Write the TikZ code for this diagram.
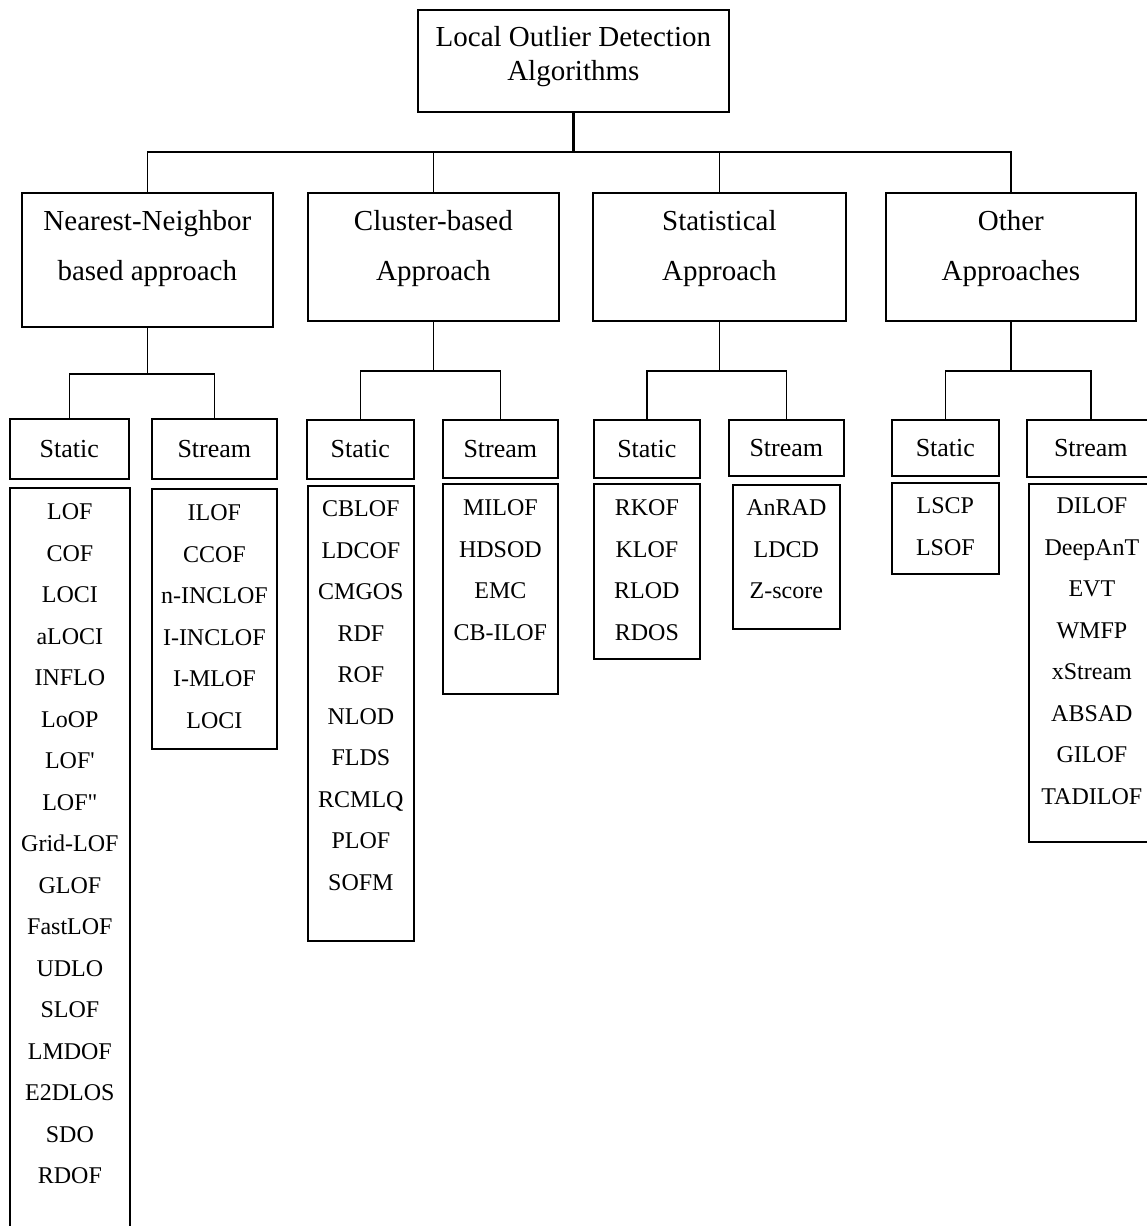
\documentclass[tikz,border=0pt]{standalone}
\usepackage{fontspec}
\newfontfamily\lodfont{Liberation Serif}

\begin{document}
\begin{tikzpicture}[x=1pt, y=-1pt,
		lw/.style={line width=1.7pt},
		topbox/.style={draw, lw, inner sep=0pt, anchor=north west, align=center,
			minimum width=311pt, minimum height=102pt, text height=71pt, text depth=31pt,
			font=\lodfont\fontsize{29}{34}\selectfont},
		catbox/.style={draw, lw, inner sep=0pt, anchor=north west, align=center,
			minimum height=128pt, text height=88pt, text depth=40pt,
			font=\lodfont\fontsize{29}{50}\selectfont},
		subbox/.style={draw, lw, inner sep=0pt, anchor=north west, align=center,
			minimum height=58pt, font=\lodfont\fontsize{26}{30}\selectfont},
		listbox/.style={draw, lw, inner sep=0pt, anchor=north west, align=center,
			font=\lodfont\fontsize{24}{41.5}\selectfont}]
	
	\useasboundingbox (0,0) rectangle (1146,1226);
	\fill[white] (0,0) rectangle (1146,1226);
	
	%% -- root --
	\node[topbox] (top) at (417,9) {Local Outlier Detection\\Algorithms};
	
	%% -- approaches --
	\node[catbox, minimum width=251pt, minimum height=134pt, text depth=46pt] (nn) at (21,192)
	{Nearest-Neighbor\\based approach};
	\node[catbox, minimum width=251pt] (cl) at (307,192) {Cluster-based\\Approach};
	\node[catbox, minimum width=253pt] (st) at (592,192) {Statistical\\Approach};
	\node[catbox, minimum width=250pt] (ot) at (885,192) {Other\\Approaches};
	
	%% -- static / stream --
	\node[subbox, minimum width=119pt, minimum height=60pt] (nn-S) at (9,418) {Static};
	\node[subbox, minimum width=125pt, minimum height=60pt] (nn-T) at (151,418) {Stream};
	\node[subbox, minimum width=107pt, minimum height=59pt] (cl-S) at (306,419) {Static};
	\node[subbox, minimum width=115pt] (cl-T) at (442,419) {Stream};
	\node[subbox, minimum width=106pt] (st-S) at (593,419) {Static};
	\node[subbox, minimum width=115pt, minimum height=56pt] (st-T) at (728,419) {Stream};
	\node[subbox, minimum width=107pt, minimum height=56pt] (ot-S) at (891,419) {Static};
	\node[subbox, minimum width=128pt, minimum height=57pt] (ot-T) at (1026,419) {Stream};
	
	%% -- algorithm lists --
	\node[listbox, minimum width=120pt, minimum height=753pt, text height=696pt, text depth=57pt] (nn-SL) at (9,487)
	{LOF\\COF\\LOCI\\aLOCI\\INFLO\\LoOP\\LOF'\\LOF"\\Grid-LOF\\GLOF\\FastLOF\\UDLO\\SLOF\\LMDOF\\E2DLOS\\SDO\\RDOF};
	\node[listbox, minimum width=125pt, minimum height=260pt, text height=239.5pt, text depth=20.5pt] (nn-TL) at (151,488)
	{ILOF\\CCOF\\n-INCLOF\\I-INCLOF\\I-MLOF\\LOCI};
	\node[listbox, minimum width=106pt, minimum height=455pt, text height=404.5pt, text depth=50.5pt] (cl-SL) at (307,485)
	{CBLOF\\LDCOF\\CMGOS\\RDF\\ROF\\NLOD\\FLDS\\RCMLQ\\PLOF\\SOFM};
	\node[listbox, minimum width=115pt, minimum height=210pt, text height=156.5pt, text depth=53.5pt] (cl-TL) at (442,483)
	{MILOF\\HDSOD\\EMC\\CB-ILOF};
	\node[listbox, minimum width=106pt, minimum height=175pt, text height=156.5pt, text depth=18.5pt] (st-SL) at (593,483)
	{RKOF\\KLOF\\RLOD\\RDOS};
	\node[listbox, minimum width=107pt, minimum height=144pt, text height=114pt, text depth=30pt] (st-TL) at (732,484)
	{AnRAD\\LDCD\\Z-score};
	\node[listbox, minimum width=107pt, minimum height=91pt, text height=72.5pt, text depth=18.5pt] (ot-SL) at (891,482)
	{LSCP\\LSOF};
	\node[listbox, minimum width=126pt, minimum height=358pt, text height=320.5pt, text depth=37.5pt] (ot-TL) at (1028,483)
	{DILOF\\DeepAnT\\EVT\\WMFP\\xStream\\ABSAD\\GILOF\\TADILOF};
	
	%% -- connectors --
	\foreach \c in {nn,cl,st,ot}
	\draw[lw] (top.south) -- ++(0,39) -| (\c.north);
	\draw[line width=2.6pt] (top.south) -- ++(0,39);
	
	\foreach \c/\h in {nn/46, cl/49, st/49, ot/49} {
		\draw[lw] (\c.south) -- ++(0,\h) -| (\c-S.north);
		\draw[lw] (\c.south) -- ++(0,\h) -| (\c-T.north);
	}
	
\end{tikzpicture}
\end{document}
